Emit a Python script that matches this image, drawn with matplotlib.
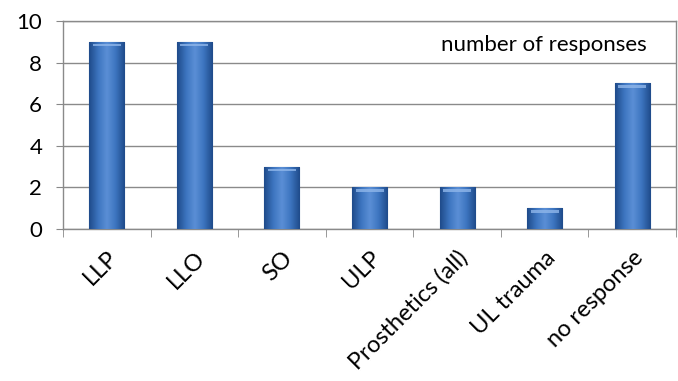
import numpy as np
import matplotlib
matplotlib.use("Agg")
import matplotlib.pyplot as plt
from matplotlib.colors import LinearSegmentedColormap
from matplotlib.transforms import ScaledTranslation

categories = ["LLP", "LLO", "SO", "ULP", "Prosthetics (all)", "UL trauma", "no response"]
values = [9, 9, 3, 2, 2, 1, 7]
yticks = [0, 2, 4, 6, 8, 10]

plt.rcParams['font.family'] = ['Lato', 'DejaVu Sans']

fig = plt.figure(figsize=(6.78, 3.81), dpi=100)
ax = fig.add_axes([0.093, 0.399, 0.904, 0.546])

x = np.arange(len(categories))
bars = ax.bar(x, values, width=0.4, color="#3b70b9", edgecolor="#24508f", linewidth=0.8, zorder=3)

cmap = LinearSegmentedColormap.from_list("barg", ["#1f4b8a", "#3c74bf", "#5b8fd6", "#3c74bf", "#1f4b8a"])
grad = np.linspace(0, 1, 64).reshape(1, -1)
for b in bars:
    x0, y0 = b.get_x(), b.get_y()
    w, h = b.get_width(), b.get_height()
    im = ax.imshow(grad, cmap=cmap, extent=[x0, x0 + w, y0, y0 + h], aspect="auto", zorder=4, interpolation="bicubic")
    im.set_clip_path(b)
    ax.bar(x0 + w / 2, 0.12, bottom=y0 + h - 0.22, width=w * 0.8, color="#8fb6ea", alpha=0.8, zorder=5, linewidth=0)

ax.set_xlim(-0.5, len(categories) - 0.5)
ax.set_ylim(0, 10)
ax.set_yticks(yticks)
ax.set_yticklabels([str(t) for t in yticks], fontsize=16)
ax.yaxis.grid(True, color="#8a8a8a", linewidth=1.0, zorder=0)
ax.set_axisbelow(True)

ax.set_xticks(x)
ax.set_xticklabels(categories, rotation=45, ha="right", rotation_mode="anchor", fontsize=17)
offset = ScaledTranslation(1.5 / 72, 0, fig.dpi_scale_trans)
for lbl in ax.get_xticklabels():
    lbl.set_transform(lbl.get_transform() + offset)
ax.set_xticks(np.arange(-0.5, len(categories)), minor=True)
ax.tick_params(axis="x", which="major", length=0, pad=13)
ax.tick_params(axis="x", which="minor", length=6, color="#888888", direction="out")
ax.tick_params(axis="y", length=5, color="#888888", pad=10)

for s in ax.spines.values():
    s.set_color("#8a8a8a")
    s.set_linewidth(1.0)

ax.text(0.785, 0.885, "number of responses", transform=ax.transAxes, ha="center", va="center", fontsize=16, zorder=6)

fig.savefig("out.png", dpi=100)
